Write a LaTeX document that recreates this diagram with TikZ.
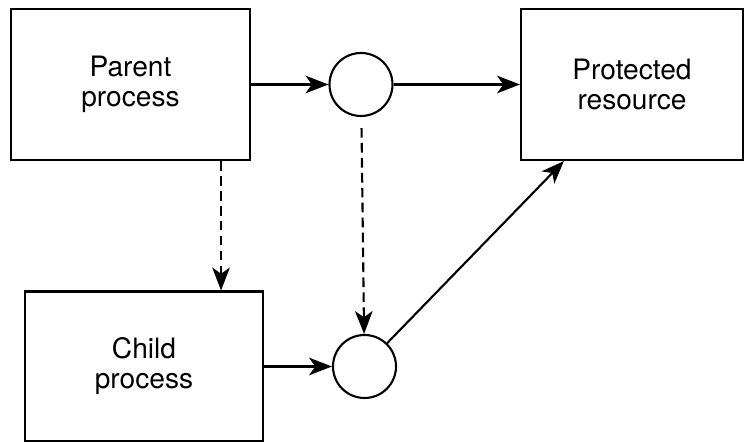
\documentclass[tikz,border=0pt]{standalone}
\usepackage{fontspec}
\setmainfont{TeX Gyre Heros}
\usepackage{tikz}
\usetikzlibrary{arrows.meta}
\tikzset{
	%	box/.style={draw,minimum width=4.7cm,minimum height=3cm},
	box/.style={draw,line width=1.2pt,align=center,font=\fontsize{16}{17}\selectfont},
	port/.style={circle,draw,line width=1.2pt,minimum size=1.26cm,inner sep=0pt},
	edge/.style={-{Stealth[length=13pt,width=10pt,inset=3.5pt]},line width=1.2pt},
	dashedge/.style={edge,dash pattern=on 5.5pt off 3pt}
}
\begin{document}
\begin{tikzpicture}
	\useasboundingbox (0,0) rectangle (15,8.84);
	\node[box,minimum width=4.78cm,minimum height=3.02cm] (parent) at (2.61, 7.15) {Parent\\process};
	\node[box,minimum width=4.44cm,minimum height=3.02cm] (res) at (12.64, 7.15) {Protected\\resource};
	\node[box,minimum width=4.76cm,minimum height=3.0cm] (child) at (2.88, 1.51) {Child\\process};
	\node[port] (c1) at (7.22, 7.15) {};
	\node[port] (c2) at (7.29, 1.51) {};
	
	\draw[edge] (parent) to (c1);
	\draw[edge] (c1) to (res);
	\draw[edge] (child) to (c2);
	\draw[edge] (c2) to ([xshift=0.88cm]res.south west);
	
	\draw[dashedge] ([xshift=-0.6cm]parent.south east) to ([xshift=-0.6cm]parent.south east |- child.north);
	\draw[dashedge,shorten <=0.22cm] (c1) to (c2);
\end{tikzpicture}
\end{document}
